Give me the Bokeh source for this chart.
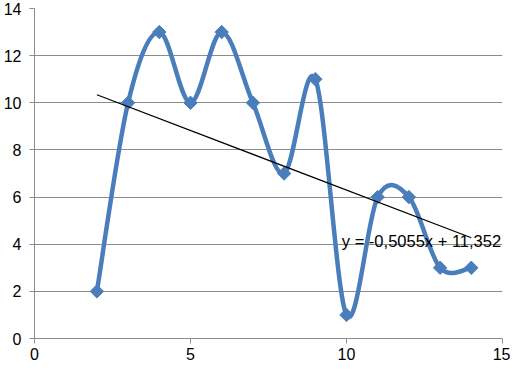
import numpy as np
from bokeh.plotting import figure
from bokeh.models import Range1d, FixedTicker, Label
from bokeh.embed import file_html
from bokeh.resources import INLINE

# data
xs = [2, 3, 4, 5, 6, 7, 8, 9, 10, 11, 12, 13, 14]
ys = [2, 10, 13, 10, 13, 10, 7, 11, 1, 6, 6, 3, 3]
x_ticks = [0, 5, 10, 15]
y_ticks = [0, 2, 4, 6, 8, 10, 12, 14]
trend_label = "y = -0,5055x + 11,352"

FONT = "Liberation Sans"
BLUE = "#4a7ebb"
GRID = "#8c8c8c"

p = figure(width=510, height=362, output_backend="svg", toolbar_location=None,
           x_range=Range1d(0, 15), y_range=Range1d(0, 14),
           min_border_left=30, min_border_right=8, min_border_top=8, min_border_bottom=20)
p.outline_line_color = None
p.background_fill_color = "white"
p.border_fill_color = "white"

p.xgrid.grid_line_color = None
p.ygrid.grid_line_color = GRID
p.ygrid.grid_line_width = 1
p.xaxis.ticker = FixedTicker(ticks=x_ticks)
p.yaxis.ticker = FixedTicker(ticks=y_ticks)
for ax in (p.xaxis[0], p.yaxis[0]):
    ax.axis_line_color = GRID
    ax.major_tick_line_color = GRID
    ax.major_tick_out = 5
    ax.major_tick_in = 0
    ax.minor_tick_line_color = None
    ax.major_label_text_font = FONT
    ax.major_label_text_font_size = "16px"
    ax.major_label_text_color = "black"
p.yaxis.major_label_standoff = 8
p.xaxis.major_label_standoff = 4

# smooth curve (Catmull-Rom -> Bezier segments)
X = np.array(xs, dtype=float)
Y = np.array(ys, dtype=float)
n = len(X)
Xp = np.concatenate([[X[0]], X, [X[-1]]])
Yp = np.concatenate([[Y[0]], Y, [Y[-1]]])
x0 = X[:-1]; y0 = Y[:-1]; x1 = X[1:]; y1 = Y[1:]
cx0 = X[:-1] + (Xp[2:n + 1] - Xp[0:n - 1]) / 6.0
cy0 = Y[:-1] + (Yp[2:n + 1] - Yp[0:n - 1]) / 6.0
cx1 = X[1:] - (Xp[3:n + 2] - Xp[1:n]) / 6.0
cy1 = Y[1:] - (Yp[3:n + 2] - Yp[1:n]) / 6.0
p.bezier(x0=x0, y0=y0, x1=x1, y1=y1, cx0=cx0, cy0=cy0, cx1=cx1, cy1=cy1,
         line_color=BLUE, line_width=4.5)
p.scatter(xs, ys, marker="square", size=9.5, angle=np.pi / 4,
          fill_color=BLUE, line_color=BLUE)

# linear trendline
k, b = np.polyfit(X, Y, 1)
tx = [min(xs), max(xs)]
p.line(tx, [k * t + b for t in tx], line_color="black", line_width=1.2)

p.add_layout(Label(x=9.85, y=4.15, text=trend_label, text_font=FONT,
                   text_font_size="16.5px", text_color="black",
                   text_baseline="middle", text_align="left"))

open("out.html", "w").write(file_html(p, INLINE))
